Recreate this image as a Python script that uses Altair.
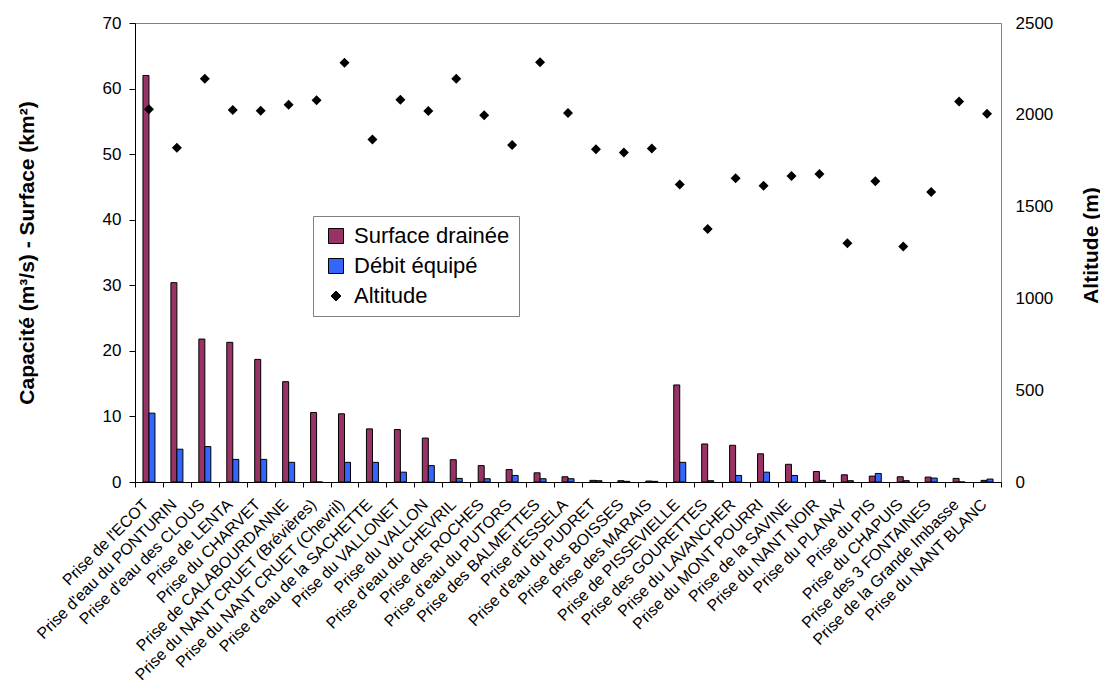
import altair as alt
import pandas as pd

names = [
    "Prise de l'ECOT", "Prise d'eau du PONTURIN", "Prise d'eau des CLOUS", "Prise de LENTA",
    "Prise du CHARVET", "Prise de CALABOURDANNE", "Prise du NANT CRUET (Brévières)",
    "Prise du NANT CRUET (Chevril)", "Prise d'eau de la SACHETTE", "Prise du VALLONET",
    "Prise du VALLON", "Prise d'eau du CHEVRIL", "Prise des ROCHES", "Prise d'eau du PUTORS",
    "Prise des BALMETTES", "Prise d'ESSELA", "Prise d'eau du PUDRET", "Prise des BOISSES",
    "Prise des MARAIS", "Prise de PISSEVIELLE", "Prise des GOURETTES", "Prise du LAVANCHER",
    "Prise du MONT POURRI", "Prise de la SAVINE", "Prise du NANT NOIR", "Prise du PLANAY",
    "Prise du PIS", "Prise du CHAPUIS", "Prise des  3 FONTAINES", "Prise de la Grande Imbasse",
    "Prise du NANT BLANC",
]
surface = [62.0, 30.4, 21.8, 21.3, 18.7, 15.3, 10.6, 10.4, 8.1, 8.0, 6.7, 3.4, 2.5, 1.9, 1.4,
           0.8, 0.25, 0.2, 0.15, 14.8, 5.8, 5.6, 4.3, 2.7, 1.6, 1.1, 0.9, 0.8, 0.75, 0.55, 0.25]
debit = [10.5, 5.0, 5.4, 3.45, 3.45, 3.0, 0.0, 3.0, 3.0, 1.5, 2.5, 0.55, 0.5, 1.0, 0.5,
         0.5, 0.2, 0.1, 0.1, 3.0, 0.2, 1.0, 1.5, 1.0, 0.25, 0.2, 1.3, 0.2, 0.6, 0.0, 0.45]
altitude = [2030, 1821, 2197, 2026, 2022, 2055, 2079, 2284, 1866, 2082, 2021, 2197, 1997, 1835,
            2286, 2010, 1812, 1794, 1817, 1621, 1378, 1654, 1614, 1667, 1678, 1300, 1638, 1282,
            1580, 2073, 2006]

S = "Surface drainée"
D = "Débit équipé"
A = "Altitude"
series = [S, D, A]
colors = ["#993366", "#3366FF", "#000000"]
shapes = ["square", "square", "diamond"]
sizes = [225, 225, 100]

rows = []
for n, s, d, a in zip(names, surface, debit, altitude):
    rows.append({"prise": n, "serie": S, "valeur": s})
    rows.append({"prise": n, "serie": D, "valeur": d})
    rows.append({"prise": n, "serie": A, "valeur": a})
df = pd.DataFrame(rows)

FONT = "Liberation Sans"

x_enc = alt.X(
    "prise:N", sort=names,
    scale=alt.Scale(paddingInner=0, paddingOuter=0),
    axis=alt.Axis(title=None, labelAngle=-45, labelFontSize=16, labelFont=FONT,
                  labelColor="black", labelOffset=-9, labelPadding=9, labelLimit=400,
                  labelOverlap=False, tickBand="extent", tickSize=5, tickColor="black",
                  domainColor="black", grid=False),
)

def make_legend():
    return alt.Legend(
        title=None, orient="none", legendX=178, legendY=193,
        fillColor="white", strokeColor="#808080", padding=9,
        labelFontSize=22, labelFont=FONT, labelColor="black", labelOffset=7,
        symbolStrokeColor="black", symbolStrokeWidth=1, symbolOffset=3,
        rowPadding=8,
    )

color = alt.Color("serie:N", scale=alt.Scale(domain=series, range=colors), legend=make_legend())
shape = alt.Shape("serie:N", scale=alt.Scale(domain=series, range=shapes), legend=make_legend())
size = alt.Size("serie:N", scale=alt.Scale(type="ordinal", domain=series, range=sizes),
                legend=make_legend())

y_left = alt.Y(
    "valeur:Q", scale=alt.Scale(domain=[0, 70], nice=False),
    axis=alt.Axis(values=list(range(0, 71, 10)), title="Capacité (m³/s)  -  Surface (km²)",
                  orient="left", grid=False, domainColor="black", tickColor="black", tickSize=6,
                  labelFontSize=17, labelFont=FONT, labelColor="black", labelPadding=8,
                  titleFontSize=21, titleFont=FONT, titleFontWeight="bold", titleColor="black",
                  titleX=-102, titleY=229.5, titleAngle=270, titleAlign="center",
                  titleBaseline="alphabetic"),
)

y_right = alt.Y(
    "valeur:Q", scale=alt.Scale(domain=[0, 2500], nice=False),
    axis=alt.Axis(values=list(range(0, 2501, 500)), format="d", title="Altitude (m)",
                  orient="right", grid=False, domain=False, ticks=False, labelPadding=14,
                  labelFontSize=17, labelFont=FONT, labelColor="black",
                  titleFontSize=21, titleFont=FONT, titleFontWeight="bold", titleColor="black",
                  titleX=96, titleY=222, titleAngle=270, titleAlign="center",
                  titleBaseline="alphabetic"),
)

base = alt.Chart(df)
bars_s = base.transform_filter(alt.datum.serie == S).mark_bar(
    size=6, xOffset=-3, stroke="black", strokeWidth=1
).encode(x=x_enc, y=y_left, color=color)
bars_d = base.transform_filter(alt.datum.serie == D).mark_bar(
    size=6, xOffset=3, stroke="black", strokeWidth=1
).encode(x=x_enc, y=y_left, color=color)
points = base.transform_filter(alt.datum.serie == A).mark_point(
    filled=True, opacity=1
).encode(x=x_enc, y=y_right, color=color, shape=shape, size=size)

chart = alt.layer(alt.layer(bars_s, bars_d), points).resolve_scale(y="independent").properties(
    width=866, height=459,
    autosize=alt.AutoSizeParams(type="none"),
    padding={"left": 127, "top": 15, "right": 99, "bottom": 202},
    background="white",
).configure_view(stroke="#808080", strokeWidth=1)

chart.save("out.html", embed_options={"renderer": "svg", "actions": False})
